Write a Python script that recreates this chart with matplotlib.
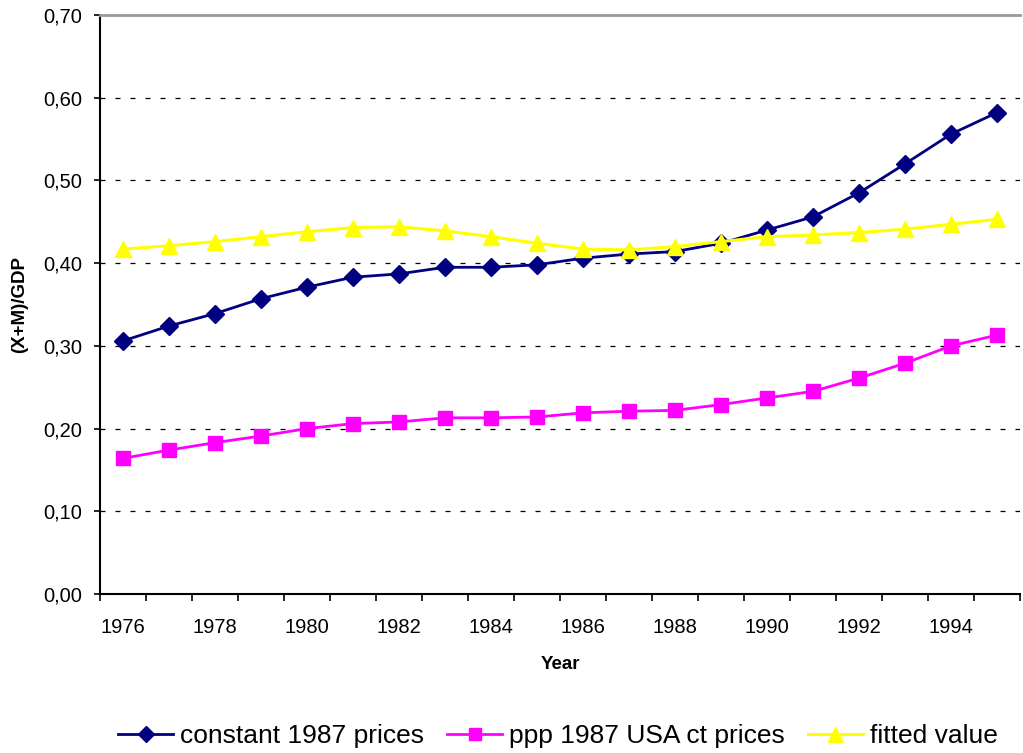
import matplotlib.pyplot as plt
from matplotlib.ticker import FuncFormatter, FixedLocator

plt.rcParams['font.family'] = ['Liberation Sans', 'DejaVu Sans']

years = list(range(1976, 1996))
constant_1987 = [0.306, 0.324, 0.339, 0.357, 0.371, 0.383, 0.387, 0.395, 0.395, 0.398,
                 0.406, 0.411, 0.414, 0.424, 0.440, 0.456, 0.485, 0.520, 0.556, 0.582]
ppp_1987 = [0.164, 0.174, 0.183, 0.191, 0.200, 0.206, 0.208, 0.213, 0.213, 0.214,
            0.219, 0.221, 0.222, 0.229, 0.237, 0.245, 0.261, 0.279, 0.300, 0.313]
fitted = [0.417, 0.421, 0.426, 0.432, 0.438, 0.443, 0.444, 0.439, 0.432, 0.424,
          0.417, 0.416, 0.420, 0.426, 0.432, 0.434, 0.437, 0.441, 0.447, 0.453]

fig = plt.figure(figsize=(10.23, 7.53), dpi=100)
ax = fig.add_axes([100 / 1023, 1 - 594 / 753, 920 / 1023, 579 / 753])

x = list(range(len(years)))
ax.plot(x, constant_1987, color='#000080', marker='D', markersize=9, linewidth=2,
        label='constant 1987 prices', zorder=3)
ax.plot(x, ppp_1987, color='#FF00FF', marker='s', markersize=10, linewidth=2,
        label='ppp 1987 USA ct prices', zorder=3)
ax.plot(x, fitted, color='#FFFF00', marker='^', markersize=12, linewidth=2.2,
        label='fitted value', zorder=3)

ax.set_xlim(-0.5, len(years) - 0.5)
ax.set_ylim(0, 0.70)

# category axis: ticks between categories, labels on every other year
ax.xaxis.set_minor_locator(FixedLocator([i - 0.5 for i in range(len(years) + 1)]))
ax.set_xticks(x[::2])
ax.set_xticklabels([str(y) for y in years[::2]])
ax.tick_params(axis='x', which='major', length=0, labelsize=14.5, pad=17)
ax.tick_params(axis='x', which='minor', length=5, width=1.2, direction='out')

ax.set_yticks([i / 10 for i in range(8)])
ax.yaxis.set_major_formatter(FuncFormatter(lambda v, p: f'{v:.2f}'.replace('.', ',')))
ax.tick_params(axis='y', length=4, width=1.2, direction='out', labelsize=14.5, pad=9)

for v in [0.1, 0.2, 0.3, 0.4, 0.5, 0.6]:
    ax.axhline(v, color='black', linewidth=0.9, linestyle=(0, (4, 8)), zorder=1)

ax.spines['right'].set_visible(False)
ax.spines['top'].set_color('#999999')
ax.spines['top'].set_linewidth(2)
ax.spines['left'].set_linewidth(1.5)
ax.spines['bottom'].set_linewidth(1.5)

ax.set_xlabel('Year', fontsize=13.5, fontweight='bold', labelpad=14)
ax.set_ylabel('(X+M)/GDP', fontsize=13.5, fontweight='bold', labelpad=11)

fig.legend(loc='center', bbox_to_anchor=(558 / 1023, 1 - 736 / 753), ncol=3, frameon=False,
           fontsize=19, handlelength=2.1, handletextpad=0.27, columnspacing=0.85,
           markerscale=0.9)

fig.savefig('out.png', dpi=100)
